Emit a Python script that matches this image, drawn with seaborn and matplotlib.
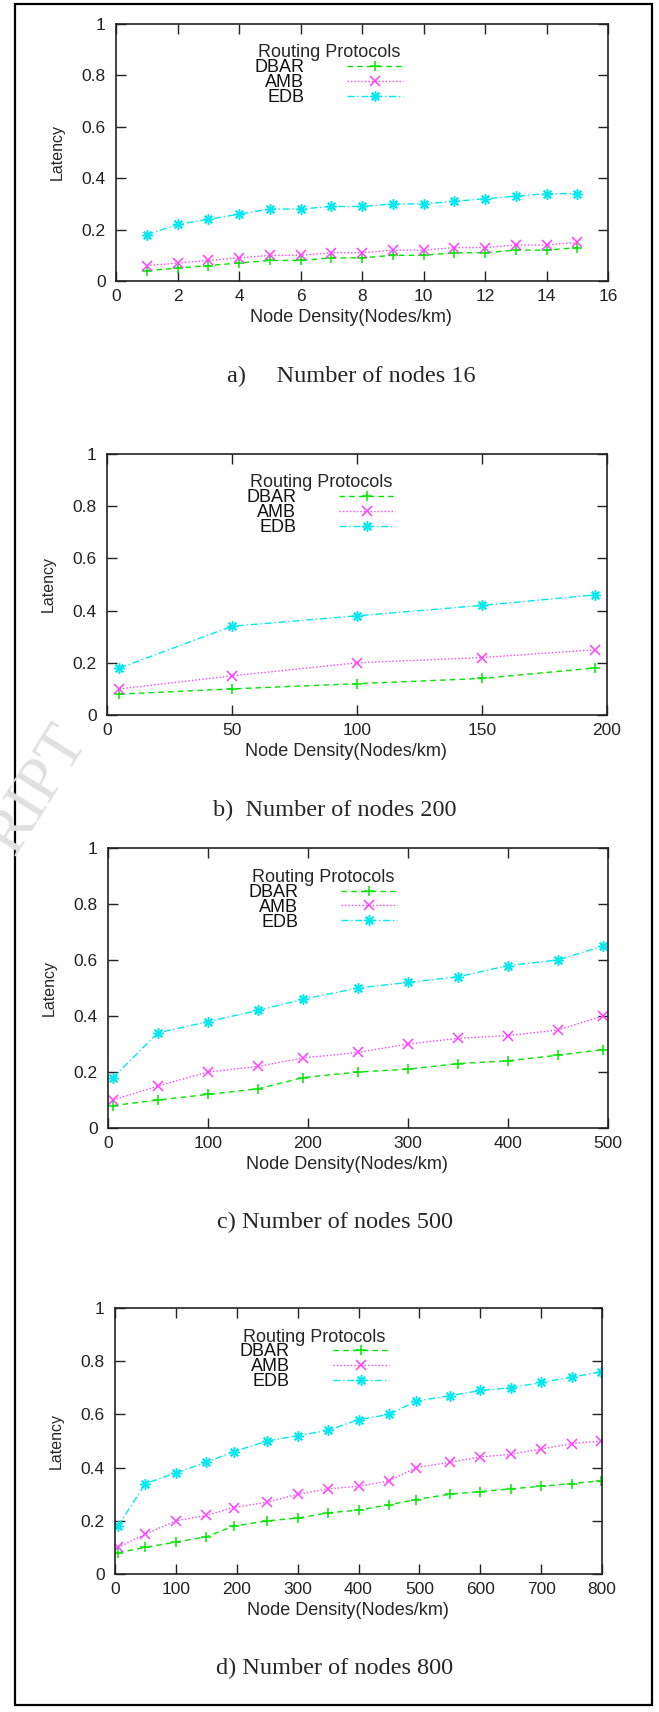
import numpy as np
import pandas as pd
import seaborn as sns
import matplotlib.pyplot as plt
from matplotlib.patches import Rectangle

# ---- datos ----
protocols = ["DBAR", "AMB", "EDB"]

x_a = [1, 2, 3, 4, 5, 6, 7, 8, 9, 10, 11, 12, 13, 14, 15]
dbar_a = [0.04, 0.05, 0.06, 0.07, 0.08, 0.08, 0.09, 0.09, 0.10, 0.10, 0.11, 0.11, 0.12, 0.12, 0.13]
amb_a = [0.06, 0.07, 0.08, 0.09, 0.10, 0.10, 0.11, 0.11, 0.12, 0.12, 0.13, 0.13, 0.14, 0.14, 0.15]
edb_a = [0.18, 0.22, 0.24, 0.26, 0.28, 0.28, 0.29, 0.29, 0.30, 0.30, 0.31, 0.32, 0.33, 0.34, 0.34]

x_b = [5, 50, 100, 150, 195]
dbar_b = [0.08, 0.10, 0.12, 0.14, 0.18]
amb_b = [0.10, 0.15, 0.20, 0.22, 0.25]
edb_b = [0.18, 0.34, 0.38, 0.42, 0.46]

x_c = [5, 50, 100, 150, 195, 250, 300, 350, 400, 450, 495]
dbar_c = [0.08, 0.10, 0.12, 0.14, 0.18, 0.20, 0.21, 0.23, 0.24, 0.26, 0.28]
amb_c = [0.10, 0.15, 0.20, 0.22, 0.25, 0.27, 0.30, 0.32, 0.33, 0.35, 0.40]
edb_c = [0.18, 0.34, 0.38, 0.42, 0.46, 0.50, 0.52, 0.54, 0.58, 0.60, 0.65]

x_d = [5, 50, 100, 150, 195, 250, 300, 350, 400, 450, 495, 550, 600, 650, 700, 750, 798]
dbar_d = [0.08, 0.10, 0.12, 0.14, 0.18, 0.20, 0.21, 0.23, 0.24, 0.26, 0.28, 0.30, 0.31, 0.32, 0.33, 0.34, 0.35]
amb_d = [0.10, 0.15, 0.20, 0.22, 0.25, 0.27, 0.30, 0.32, 0.33, 0.35, 0.40, 0.42, 0.44, 0.45, 0.47, 0.49, 0.50]
edb_d = [0.18, 0.34, 0.38, 0.42, 0.46, 0.50, 0.52, 0.54, 0.58, 0.60, 0.65, 0.67, 0.69, 0.70, 0.72, 0.74, 0.76]

yticks = [0, 0.2, 0.4, 0.6, 0.8, 1]
ytick_labels = ["0", "0.2", "0.4", "0.6", "0.8", "1"]
xticks_a = [0, 2, 4, 6, 8, 10, 12, 14, 16]
xticks_b = [0, 50, 100, 150, 200]
xticks_c = [0, 100, 200, 300, 400, 500]
xticks_d = [0, 100, 200, 300, 400, 500, 600, 700, 800]

captions = ["a)     Number of nodes 16", "b)  Number of nodes 200",
            "c) Number of nodes 500", "d) Number of nodes 800"]

sns.set_style("ticks")
plt.rcParams['font.family'] = ['Liberation Sans', 'DejaVu Sans']

W, H = 659, 1712
fig = plt.figure(figsize=(W / 100, H / 100), dpi=100)

# estilos de cada protocolo (tipo gnuplot)
cores = {"DBAR": "#00e600", "AMB": "#ff40ff", "EDB": "#00e8f0"}
marcas = {"DBAR": "+", "AMB": "x", "EDB": (8, 2, 0)}
tam_marca = {"DBAR": 7, "AMB": 6.5, "EDB": 7.5}
tracos = {"DBAR": (0, (4, 3)), "AMB": (0, (1, 1.5)), "EDB": (0, (5, 2, 1, 2))}

# caixas dos eixos em pixels: esquerda, direita, topo, base
caixas = [(116, 608, 24, 281), (107, 607, 454, 715),
          (108, 608, 848, 1128), (115, 602, 1308, 1574)]
legenda_x = [0.255, 0.253, 0.255, 0.23]
caption_x = [351, 335, 335, 335]
caption_y = [376, 810, 1222, 1668]

paineis = [
    (x_a, dbar_a, amb_a, edb_a, xticks_a),
    (x_b, dbar_b, amb_b, edb_b, xticks_b),
    (x_c, dbar_c, amb_c, edb_c, xticks_c),
    (x_d, dbar_d, amb_d, edb_d, xticks_d),
]

for i, (xs, d1, d2, d3, xt) in enumerate(paineis):
    l, r, t, b = caixas[i]
    ax = fig.add_axes([l / W, 1 - b / H, (r - l) / W, (b - t) / H])
    df = pd.DataFrame({"x": xs * 3, "lat": d1 + d2 + d3,
                       "proto": [p for p in protocols for _ in xs]})
    for p in protocols:
        sub = df[df["proto"] == p]
        sns.lineplot(data=sub, x="x", y="lat", ax=ax, color=cores[p],
                     marker=marcas[p], markersize=tam_marca[p], markeredgewidth=1.1,
                     markeredgecolor=cores[p], linestyle=tracos[p],
                     linewidth=1.0, label=p, estimator=None, sort=False)
    ax.set_xlim(xt[0], xt[-1])
    ax.set_ylim(0, 1)
    ax.set_xticks(xt)
    ax.set_xticklabels([str(v) for v in xt])
    ax.set_yticks(yticks)
    ax.set_yticklabels(ytick_labels)
    ax.tick_params(direction="in", length=7, width=1, top=True, right=True,
                   labelsize=12.5, colors="#222222")
    ax.tick_params(axis="y", pad=7.5)
    ax.tick_params(axis="x", pad=5.5)
    for s in ax.spines.values():
        s.set_visible(True)
        s.set_linewidth(1.2)
        s.set_color("#222222")
    ax.set_xlabel("Node Density(Nodes/km)", fontsize=13, labelpad=4)
    ax.xaxis.label.set_x(0.478)
    ax.set_ylabel("Latency", fontsize=11.5, labelpad=12)
    leg = ax.legend(title="Routing Protocols", frameon=False, markerfirst=False,
                    loc="upper left", bbox_to_anchor=(legenda_x[i], 0.97),
                    fontsize=13, title_fontsize=13, handlelength=3.1,
                    handletextpad=2.4, labelspacing=-0.12, borderpad=0.2)
    for txt in leg.get_texts():
        txt.set_color("#111111")

    fig.text(caption_x[i] / W, 1 - caption_y[i] / H, captions[i], ha="center", va="center",
             fontsize=17.5, family=["Liberation Serif", "DejaVu Serif"])

# moldura externa
fig.patches.append(Rectangle((15 / W, 1 - 1705 / H), (652 - 15) / W, (1705 - 4) / H,
                             transform=fig.transFigure, fill=False,
                             edgecolor="black", linewidth=1.6))

# marca d'água parcial
fig.text(38 / W, 1 - 790 / H, "RIPT", rotation=58, ha="center", va="center",
         fontsize=46, color="#e0e0e0", family=["Liberation Serif", "DejaVu Serif"])

fig.savefig("out.png", dpi=100)
